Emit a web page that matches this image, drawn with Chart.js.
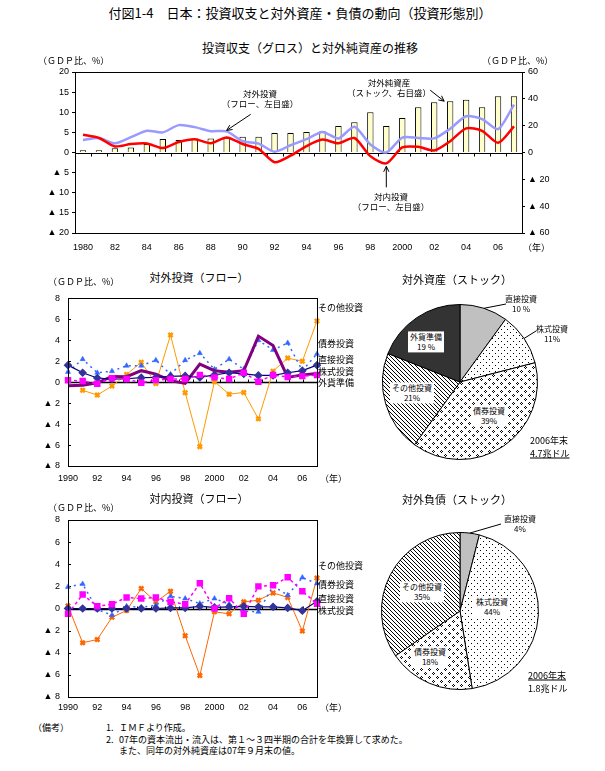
<!DOCTYPE html>
<html lang="ja">
<head>
<meta charset="utf-8">
<script src="https://cdn.jsdelivr.net/npm/chart.js"></script>
<style>
  body { margin: 0; background: #fff; }
  #page { position: relative; width: 605px; height: 771px; overflow: hidden; font-family: 'Noto Sans CJK JP', sans-serif; color: #000; }
  #page canvas { position: absolute; }
  .t { position: absolute; white-space: nowrap; line-height: 1; }
  .b { position: absolute; white-space: nowrap; line-height: 1.2; text-align: center; transform: translate(-50%, -50%); }
</style>
</head>
<body>
<div id="page">
  <canvas id="gross" width="605" height="200" style="left:0;top:60px"></canvas>
  <canvas id="outFlow" width="330" height="200" style="left:0;top:285px"></canvas>
  <canvas id="assets" width="245" height="180" style="left:360px;top:290px"></canvas>
  <canvas id="inFlow" width="330" height="210" style="left:0;top:505px"></canvas>
  <canvas id="liabs" width="245" height="180" style="left:360px;top:520px"></canvas>
</div>
<script>
// --- top chart: gross flows (left axis, % of GDP) and net external assets (right axis)
const topYears = ['1980','1981','1982','1983','1984','1985','1986','1987','1988','1989',
  '1990','1991','1992','1993','1994','1995','1996','1997','1998','1999',
  '2000','2001','2002','2003','2004','2005','2006','2007']
const topTickLabels = ['1980','','82','','84','','86','','88','','90','','92','','94','',
  '96','','98','','2000','','02','','04','','06','']
const netAssets = [1.75, 1.75, 3.25, 3.75, 6.25, 10, 9.25, 10.5, 10.5, 11, 11.75, 11.75, 14.5, 14.5,
  15.25, 15.75, 19.75, 22.5, 30, 19.75, 25.75, 33.75, 37.5, 38.25, 39.25, 33.75, 42, 42]
const outwardGross = [3.1, 3.6, 2.3, 3.8, 5.4, 5.0, 6.8, 6.3, 5.3, 5.25, 2.8, 2.2, 0.2, 1.8,
  3.3, 5.1, 3.5, 6.4, 2.0, 0, 3.7, 3.6, 3.5, 5.9, 9.0, 8.3, 5.8, 11.9]
const inwardGross = [4.4, 3.6, 1.5, 2.1, 2.25, 1.1, 2.6, 3.3, 2.3, 3.75, 2.1, 0.9, -2.4, -0.8,
  1.6, 3.2, 2.3, 3.6, -0.9, -2.7, 1.25, 1.4, 0.5, 2.8, 6.0, 5.4, 2.4, 6.5]

// --- flow charts 1990-2007
const flowYears = ['1990','1991','1992','1993','1994','1995','1996','1997','1998',
  '1999','2000','2001','2002','2003','2004','2005','2006','2007']
const flowTickLabels = ['1990','','92','','94','','96','','98','','2000','','02','','04','','06','']

const outDirect = [1.63, 0.9, 0.4, 0.3, 0.33, 0.43, 0.46, 0.55, 0.6, 0.46, 0.7, 0.9, 0.8, 0.65, 0.65, 0.9, 1.1, 1.63]
const outBonds = [0.98, 2.2, 0.9, 1.05, 1.57, 1.57, 2.1, 0.75, 2.1, 2.77, 1.23, 2.2, 1.23, 4.0, 3.07, 3.75, 1.1, 2.7]
const outEquity = [0.18, 0.12, -0.15, 0.37, 0.3, -0.06, 0.2, 0.3, 0.3, 0.7, 0.46, 0.3, 0.9, 0.05, 0.68, 0.5, 0.58, 0.68]
const outOther = [null, -0.77, -1.23, -0.37, 0.74, 1.9, -0.12, 4.5, -1.0, -6.15, 0.05, -1.14, -0.98, -3.5, 1.05, 2.3, 2.0, 5.85]
const outReserves = [-0.34, -0.28, -0.06, 0.55, 0.52, 1.1, 0.77, 0.15, -0.12, 1.72, 1.1, 0.95, 1.1, 4.4, 3.5, 0.46, 0.7, 0.83]

const inDirect = [0, 0, 0, 0, 0, 0, 0, 0.05, 0.05, 0.2, 0.1, 0.15, 0.2, 0.15, 0.15, 0.05, -0.2, 0.65]
const inBonds = [1.95, 2.22, -0.09, -0.6, 0.2, 0.1, 0.3, 1.1, 0.9, 0.45, 0.9, 0.4, -0.25, -0.3, 2.04, 1.2, 2.8, 2.25]
const inEquity = [-0.48, 1.26, 0.2, 0.39, 1.0, 0.9, 1.0, 0.6, 0.39, 2.28, 0, 0.93, -0.48, 2.0, 2.1, 2.82, 1.56, 0.42]
const inOther = [0.24, -3.1, -2.8, -0.8, -0.18, 1.8, 0.6, 1.56, -2.46, -6.06, -0.3, -0.48, 0.6, 0.75, 1.41, 1.0, -2.04, 2.76]

// --- stock pies, end of 2006 (%)
const assetLabels = ['直接投資', '株式投資', '債券投資', 'その他投資', '外貨準備']
const assetShares = [10, 11, 39, 21, 19]
const liabLabels = ['直接投資', '株式投資', '債券投資', 'その他投資']
const liabShares = [4, 44, 18, 35]

Chart.defaults.font.family = "'Liberation Sans', 'Noto Sans CJK JP', sans-serif"
Chart.defaults.font.size = 9
Chart.defaults.color = '#000'
Chart.defaults.animation = false

const tri = v => v < 0 ? '▲ ' + (-v) : String(v)

// plot frame, zero axis with category ticks, optional inner y ticks
const framePlugin = {
  id: 'frame',
  beforeDatasetsDraw(chart, args, opts) {
    const {ctx, chartArea: a, scales} = chart
    const ys = scales[opts.yId]
    const y0 = Math.round(ys.getPixelForValue(0)) + 0.5
    const n = chart.data.labels.length
    const w = (a.right - a.left) / n
    ctx.save()
    ctx.strokeStyle = '#000'
    ctx.lineWidth = opts.zeroWidth || 1
    ctx.beginPath()
    ctx.moveTo(a.left, y0)
    ctx.lineTo(a.right, y0)
    ctx.stroke()
    ctx.lineWidth = 1
    ctx.beginPath()
    for (let i = 1; i < n; i++) {
      const x = Math.round(a.left + i * w) + 0.5
      ctx.moveTo(x, y0)
      ctx.lineTo(x, y0 + opts.tickDir * 3)
    }
    if (opts.innerY) {
      ys.ticks.forEach(t => {
        const y = Math.round(ys.getPixelForValue(t.value)) + 0.5
        ctx.moveTo(a.left, y)
        ctx.lineTo(a.left + 3, y)
      })
    }
    ctx.stroke()
    ctx.restore()
  },
  afterDraw(chart) {
    const {ctx, chartArea: a} = chart
    ctx.save()
    ctx.strokeStyle = '#000'
    ctx.lineWidth = 1
    ctx.strokeRect(Math.round(a.left) + 0.5, Math.round(a.top) + 0.5,
      Math.round(a.right - a.left), Math.round(a.bottom - a.top))
    ctx.restore()
  }
}

// callout arrows pointing at a data element
const arrowPlugin = {
  id: 'arrows',
  afterDatasetsDraw(chart, args, opts) {
    const ctx = chart.ctx
    ctx.save()
    ctx.strokeStyle = '#000'
    ctx.lineWidth = 1
    ;(opts.list || []).forEach(a => {
      const el = chart.getDatasetMeta(a.ds).data[a.idx]
      const tx = el.x + a.tx, ty = el.y + a.ty
      const sx = el.x + a.dx, sy = el.y + a.dy
      const ang = Math.atan2(ty - sy, tx - sx)
      ctx.beginPath()
      ctx.moveTo(sx, sy)
      ctx.lineTo(tx, ty)
      ctx.moveTo(tx - 6 * Math.cos(ang - 0.45), ty - 6 * Math.sin(ang - 0.45))
      ctx.lineTo(tx, ty)
      ctx.lineTo(tx - 6 * Math.cos(ang + 0.45), ty - 6 * Math.sin(ang + 0.45))
      ctx.stroke()
    })
    ctx.restore()
  }
}

// leader lines from a slice edge to its outside label
const leaderPlugin = {
  id: 'leaders',
  afterDraw(chart, args, opts) {
    const ctx = chart.ctx
    const meta = chart.getDatasetMeta(0)
    ctx.save()
    ctx.strokeStyle = '#000'
    ctx.lineWidth = 1
    ;(opts.list || []).forEach(l => {
      const arc = meta.data[l.idx]
      const mid = (arc.startAngle + arc.endAngle) / 2
      ctx.beginPath()
      ctx.moveTo(arc.x + Math.cos(mid) * arc.outerRadius, arc.y + Math.sin(mid) * arc.outerRadius)
      ctx.lineTo(l.to[0], l.to[1])
      ctx.stroke()
    })
    ctx.restore()
  }
}

function tile(size, draw) {
  const c = document.createElement('canvas')
  c.width = size
  c.height = size
  const g = c.getContext('2d')
  g.fillStyle = '#fff'
  g.fillRect(0, 0, size, size)
  g.fillStyle = '#000'
  draw(g)
  return g.createPattern(c, 'repeat')
}
const px = (g, pts) => pts.forEach(p => g.fillRect(p[0], p[1], 1, 1))
const dots = tile(6, g => px(g, [[0, 0], [3, 3]]))
const diamonds = tile(8, g => px(g, [[1, 0], [0, 1], [2, 1], [1, 2], [5, 4], [4, 5], [6, 5], [5, 6]]))
const hatch = tile(4, g => px(g, [[0, 0], [1, 1], [2, 2], [3, 3]]))

function yAxis(pos, min, max, step, width, outerTicks) {
  return {
    type: 'linear', position: pos, min: min, max: max,
    ticks: {stepSize: step, callback: tri, padding: outerTicks ? 3 : 8},
    grid: outerTicks ? {drawOnChartArea: false, drawTicks: true, tickLength: 3, color: '#000'} : {display: false, drawTicks: false},
    border: {display: true, color: '#000'},
    afterFit: s => { s.width = width }
  }
}
function xAxis(labels, pad, height) {
  return {
    grid: {display: false, drawTicks: false}, border: {display: false},
    ticks: {autoSkip: false, maxRotation: 0, padding: pad, callback: (v, i) => labels[i]},
    afterFit: s => { s.height = height }
  }
}

new Chart(document.getElementById('gross'), {
  type: 'bar',
  data: {
    labels: topYears,
    datasets: [
      {type: 'line', label: '対内投資', data: inwardGross, yAxisID: 'yL', borderColor: '#FF0000', borderWidth: 2.5, pointRadius: 0, tension: 0.25},
      {type: 'line', label: '対外投資', data: outwardGross, yAxisID: 'yL', borderColor: '#9999FF', borderWidth: 2.5, pointRadius: 0, tension: 0.25},
      {label: '対外純資産', data: netAssets, yAxisID: 'yR', backgroundColor: '#FFFFCC', borderColor: '#000', borderWidth: 1, barPercentage: 0.4, categoryPercentage: 1}
    ]
  },
  options: {
    responsive: false,
    layout: {padding: {top: 12, left: 0, right: 0, bottom: 0}},
    scales: {
      x: xAxis(topTickLabels, 9, 27),
      yL: yAxis('left', -20, 20, 5, 75, true),
      yR: yAxis('right', -60, 60, 20, 83, true)
    },
    plugins: {
      legend: {display: false}, tooltip: {enabled: false},
      frame: {yId: 'yL', tickDir: 1},
      arrows: {list: [
        {ds: 1, idx: 9, tx: 0, ty: -1, dx: 24, dy: -17},
        {ds: 2, idx: 23, tx: -6, ty: 0, dx: -20, dy: -11},
        {ds: 0, idx: 19, tx: 0, ty: 3, dx: 0, dy: 24}
      ]}
    }
  },
  plugins: [framePlugin, arrowPlugin]
})

function flowChart(id, sets, top, xh, xpad) {
  return new Chart(document.getElementById(id), {
    type: 'line',
    data: {labels: flowYears, datasets: sets},
    options: {
      responsive: false,
      layout: {padding: {top: top, left: 0, right: 13, bottom: 0}},
      scales: {
        x: xAxis(flowTickLabels, xpad, xh),
        y: yAxis('left', -8, 8, 2, 68, false)
      },
      plugins: {
        legend: {display: false}, tooltip: {enabled: false},
        frame: {yId: 'y', tickDir: -1, innerY: true, zeroWidth: 1.5}
      }
    },
    plugins: [framePlugin]
  })
}

const equityStyle = {borderColor: '#FF00FF', borderWidth: 1.5, borderDash: [3, 3], pointStyle: 'rect', pointRadius: 3.5, pointBackgroundColor: '#FF00FF', pointBorderColor: '#FF00FF'}
const bondStyle = {borderColor: '#3366FF', borderWidth: 1.5, borderDash: [2, 4], pointStyle: 'triangle', pointRadius: 3, pointBorderWidth: 0.5, pointBackgroundColor: '#3366FF', pointBorderColor: '#3366FF'}
const directStyle = {borderColor: '#000080', borderWidth: 1.2, pointStyle: 'rectRot', pointRadius: 3.5, pointBackgroundColor: '#333399', pointBorderColor: '#333399'}
const otherStyle = c => ({borderColor: c, borderWidth: 1, pointStyle: 'crossRot', pointRadius: 3, pointBorderWidth: 2.5, pointBorderColor: c, pointBackgroundColor: c})

flowChart('outFlow', [
  {label: '株式投資', data: outEquity, ...equityStyle},
  {label: '直接投資', data: outDirect, ...directStyle},
  {label: '外貨準備', data: outReserves, borderColor: '#800080', borderWidth: 3, pointRadius: 0},
  {label: '債券投資', data: outBonds, ...bondStyle},
  {label: 'その他投資', data: outOther, ...otherStyle('#FF9900')}
], 6, 19, 7)

flowChart('inFlow', [
  {label: '株式投資', data: inEquity, ...equityStyle},
  {label: '直接投資', data: inDirect, ...directStyle},
  {label: '債券投資', data: inBonds, ...bondStyle},
  {label: 'その他投資', data: inOther, ...otherStyle('#FF6600')}
], 15, 18, 5)

function pieChart(id, labels, shares, fills, pad, leaders) {
  return new Chart(document.getElementById(id), {
    type: 'pie',
    data: {labels: labels, datasets: [{data: shares, backgroundColor: fills, borderColor: '#000', borderWidth: 1}]},
    options: {
      responsive: false,
      layout: {padding: pad},
      plugins: {legend: {display: false}, tooltip: {enabled: false}, leaders: {list: leaders}}
    },
    plugins: [leaderPlugin]
  })
}
pieChart('assets', assetLabels, assetShares, ['#C0C0C0', dots, diamonds, hatch, '#333333'],
  {left: 22, right: 67, top: 14, bottom: 10},
  [{idx: 0, to: [146, 14]}, {idx: 1, to: [176, 41]}])
pieChart('liabs', liabLabels, liabShares, ['#C0C0C0', dots, diamonds, hatch],
  {left: 21, right: 66, top: 12, bottom: 10},
  [{idx: 0, to: [141, 4]}])

// --- text
const page = document.getElementById('page')
function put(text, x, y, size, opt = {}) {
  const d = document.createElement('div')
  d.className = 't'
  d.textContent = text
  d.style.fontSize = size + 'px'
  d.style.left = x + 'px'
  d.style.top = y + 'px'
  d.style.transform = 'translate(' + (opt.center ? '-50%' : '0') + ', -50%)'
  if (opt.underline) d.style.textDecoration = 'underline'
  page.appendChild(d)
}
function box(lines, x, y, size, bg) {
  const d = document.createElement('div')
  d.className = 'b'
  d.innerHTML = lines.join('<br>')
  d.style.fontSize = size + 'px'
  d.style.left = x + 'px'
  d.style.top = y + 'px'
  if (bg) { d.style.background = '#fff'; d.style.padding = '1px 2px' }
  page.appendChild(d)
}

put('付図1-4　日本：投資収支と対外資産・負債の動向（投資形態別）', 300, 12, 13, {center: true})
put('投資収支（グロス）と対外純資産の推移', 310, 48, 12, {center: true})
put('（ＧＤＰ比、%）', 38, 60, 9)
put('（ＧＤＰ比、%）', 482, 60, 9)
put('（年）', 523, 247, 9)
box(['対外投資', '（フロー、左目盛）'], 260, 98, 8.5)
box(['対外純資産', '（ストック、右目盛）'], 389, 87, 8.5)
box(['対内投資', '（フロー、左目盛）'], 391, 201, 8.5)

put('対外投資（フロー）', 199, 277, 11, {center: true})
put('（ＧＤＰ比、%）', 48, 281, 9)
put('その他投資', 318, 307, 9)
put('債券投資', 318, 343, 9)
put('直接投資', 318, 359, 9)
put('株式投資', 318, 371, 9)
put('外貨準備', 318, 382, 9)
put('（年）', 320, 478, 9)

put('対外資産（ストック）', 457, 279, 11, {center: true})
box(['直接投資', '10 %'], 521, 304, 8)
box(['株式投資', '11%'], 552, 334, 8)
box(['外貨準備', '19 %'], 426, 342, 8, true)
box(['その他投資', '21%'], 412, 393, 8, true)
box(['債券投資', '39%'], 489, 416, 8, true)
put('2006年末', 530, 440, 9)
put('4.7兆ドル', 530, 453, 9, {underline: true})

put('対内投資（フロー）', 199, 498, 11, {center: true})
put('（ＧＤＰ比、%）', 48, 507, 9)
put('その他投資', 318, 565, 9)
put('債券投資', 318, 584, 9)
put('直接投資', 318, 598, 9)
put('株式投資', 318, 610, 9)
put('（年）', 320, 707, 9)

put('対外負債（ストック）', 457, 499, 11, {center: true})
box(['直接投資', '4%'], 520, 524, 8)
box(['その他投資', '35%'], 422, 592, 8, true)
box(['株式投資', '44%'], 492, 607, 8, true)
box(['債券投資', '18%'], 430, 657, 8, true)
put('2006年末', 528, 675, 9, {underline: true})
put('1.8兆ドル', 528, 688, 9)

put('（備考）', 33, 727, 9)
put('1.', 106, 727, 9)
put('ＩＭＦより作成。', 119, 727, 9)
put('2.', 106, 739, 9)
put('07年の資本流出・流入は、第１～３四半期の合計を年換算して求めた。', 119, 739, 9)
put('また、同年の対外純資産は07年９月末の値。', 119, 750, 9)
</script>
</body>
</html>
